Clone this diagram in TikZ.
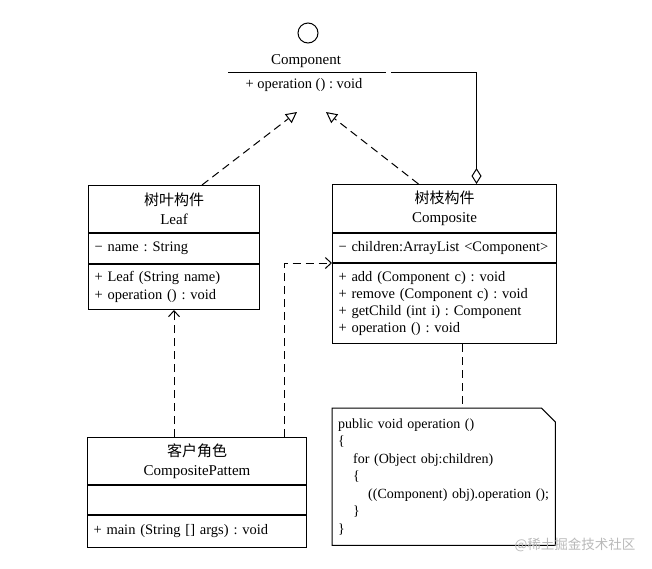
\documentclass[tikz,border=0pt]{standalone}
\usepackage{fontspec}
\setmainfont{Liberation Serif}
\newfontfamily\cjk{Noto Sans CJK SC}
\usetikzlibrary{arrows.meta,positioning,calc}
\tikzset{
  iface/.style     = {draw, circle, line width=1pt, minimum size=20pt, inner sep=0pt},
  classname/.style = {draw, rectangle, line width=1pt, minimum width=#1, minimum height=47pt, inner sep=0pt, align=center},
  members/.style   = {draw, rectangle, line width=1pt, text width=#1, inner xsep=6pt, inner ysep=0pt, align=left},
  notebox/.style   = {rectangle, text width=211pt, inner xsep=6pt, inner ysep=0pt, minimum height=137pt, align=left, font=\fontsize{14}{17.5}\selectfont},
  realize/.style   = {-{Triangle[open, length=11pt, width=11pt]}, dash pattern=on 8pt off 5pt, line width=1pt},
  depend/.style    = {-{Straight Barb[length=6pt, width=11pt]}, dash pattern=on 8pt off 5pt, line width=1pt},
  aggregate/.style = {{Diamond[open, length=16pt, width=10pt]}-, line width=1pt},
  dashline/.style  = {dash pattern=on 8pt off 5pt, line width=1pt}
}
\frenchspacing
\begin{document}
\begin{tikzpicture}[x=1pt, y=-1pt, font=\fontsize{14.5}{18}\selectfont]
  \useasboundingbox (0,0) rectangle (652,568);
  \node[iface] (comp-icon) at (308,33) {};
  \node[font=\fontsize{15}{18}\selectfont] (comp-name) at (306,61) {Component};
  \node (comp-ops) at (304,85) {+ operation () : void};
  \coordinate (comp-left) at (228,72);
  \coordinate (comp-right) at (386,72);
  \coordinate (comp-agg) at (391,72);
  \coordinate (real-l) at (297,112);
  \coordinate (real-r) at (326,112);
  \draw[line width=1pt] (comp-left) -- (comp-right);

  \node[classname=171, anchor=north west, font=\fontsize{15}{19}\selectfont] (leaf) at (88,185) {{\cjk 树叶构件}\\Leaf};
  \node[members=159, minimum height=30pt, below=0pt of leaf] (leaf-attr) {− name : String};
  \node[members=159, minimum height=45pt, below=0pt of leaf-attr] (leaf-ops) {+ Leaf (String name)\\+ operation () : void};

  \node[classname=224, minimum height=48pt, anchor=north west, font=\fontsize{15}{19}\selectfont] (composite) at (332,184) {{\cjk 树枝构件}\\Composite};
  \node[members=212, minimum height=29pt, below=0pt of composite] (composite-attr) {\mbox{− children:ArrayList <Component>}};
  \node[members=212, minimum height=80pt, below=0pt of composite-attr] (composite-ops) {+ add (Component c) : void\\[-1pt]+ remove (Component c) : void\\[-1pt]+ getChild (int i) : Component\\[-1pt]+ operation () : void};

  \node[classname=219, anchor=north west, font=\fontsize{15}{19}\selectfont] (client) at (87,437) {{\cjk 客户角色}\\CompositePattem};
  \node[members=207, minimum height=29pt, below=0pt of client] (client-attr) {};
  \node[members=207, minimum height=32pt, below=0pt of client-attr] (client-ops) {+ main (String [] args) : void};

  \node[notebox, anchor=north west] (note) at (332,408) {public void operation ()\\\{\\\hspace*{15pt}for (Object obj:children)\\\hspace*{15pt}\{\\\hspace*{30pt}\mbox{((Component) obj).operation ();}\\\hspace*{15pt}\}\\\}};
  \draw[line width=1pt] (note.north west) -- ([xshift=-14pt]note.north east) -- ([yshift=-14pt]note.north east) -- (note.south east) -- (note.south west) -- cycle;

  \draw[realize] ([xshift=28pt]leaf.north) -- (real-l);
  \draw[realize] ([xshift=-26pt]composite.north) -- (real-r);
  \draw[aggregate] ([xshift=32pt]composite.north) |- (comp-agg);
  \draw[depend] (client.north -| leaf-ops.south) -- (leaf-ops.south);
  \draw[depend] ([xshift=87.5pt]client.north) |- (composite-ops.north west);
  \draw[dashline] ([xshift=18pt]composite-ops.south) -- ([xshift=18pt]composite-ops.south |- note.north);

  \node[text=gray!55, font=\cjk\fontsize{13.5}{15}\selectfont] (mark) at (575,545) {@稀土掘金技术社区};
\end{tikzpicture}
\end{document}
